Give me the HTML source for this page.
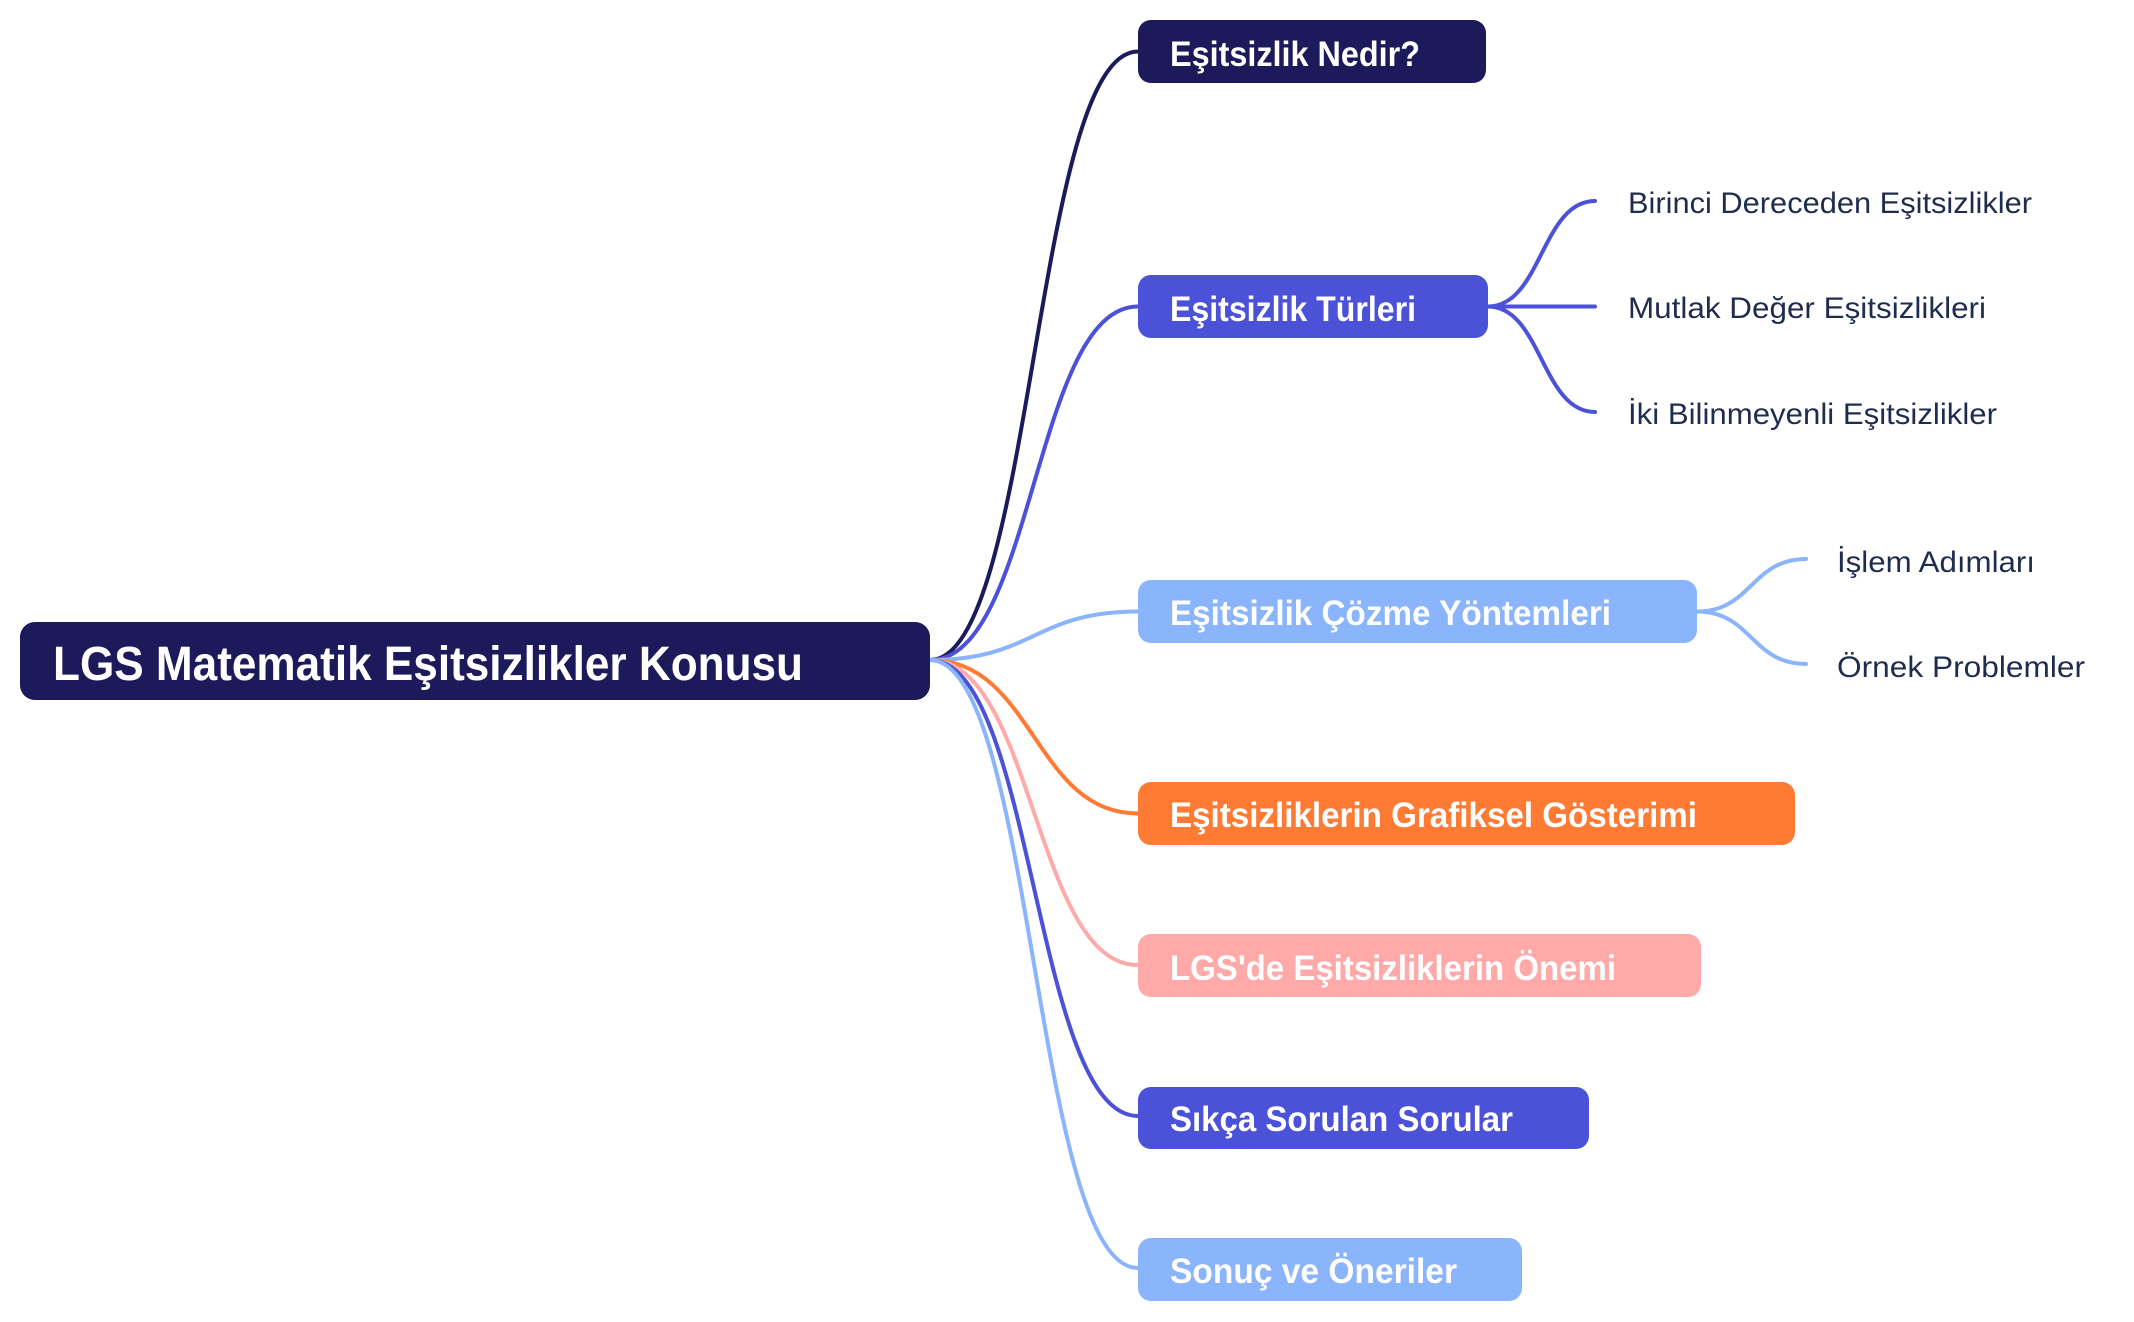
<!DOCTYPE html>
<html>
<head>
<meta charset="utf-8">
<style>
html,body{margin:0;padding:0;background:#ffffff;}
svg{display:block;}
text{font-family:"Liberation Sans","DejaVu Sans",sans-serif;}
.n{fill:#ffffff;font-weight:700;font-size:35px;}
.c{fill:#1f2c4e;font-weight:400;font-size:30px;}
</style>
</head>
<body>
<svg width="2134" height="1322" viewBox="0 0 2134 1322" xmlns="http://www.w3.org/2000/svg">
  <g fill="none" stroke-width="4" stroke-linecap="round">
    <!-- top-level connectors -->
    <path d="M930 660 C1034 660,1034 51.5,1138 51.5" stroke="#1c1a5a"/>
    <path d="M930 660 C1034 660,1034 306.5,1138 306.5" stroke="#4b52d8"/>
    <path d="M930 660 C1034 660,1034 611.5,1138 611.5" stroke="#8ab4fc"/>
    <path d="M930 660 C1034 660,1034 813.5,1138 813.5" stroke="#ff7b33"/>
    <path d="M930 660 C1034 660,1034 965,1138 965" stroke="#ffaaa9"/>
    <path d="M930 660 C1034 660,1034 1116,1138 1116" stroke="#4b52d8"/>
    <path d="M930 660 C1034 660,1034 1268,1138 1268" stroke="#8ab4fc"/>
    <!-- Türleri children -->
    <path d="M1488 306.5 C1541.5 306.5,1541.5 201,1595 201" stroke="#4b52d8"/>
    <path d="M1488 306.5 L1595 306.5" stroke="#4b52d8"/>
    <path d="M1488 306.5 C1541.5 306.5,1541.5 412,1595 412" stroke="#4b52d8"/>
    <!-- Çözme children -->
    <path d="M1697 611.5 C1751.5 611.5,1751.5 559,1806 559" stroke="#8ab4fc"/>
    <path d="M1697 611.5 C1751.5 611.5,1751.5 664,1806 664" stroke="#8ab4fc"/>
  </g>

  <!-- root -->
  <rect x="20" y="622" width="910" height="78" rx="15" fill="#1c1a5a"/>
  <text x="53" y="680" fill="#ffffff" font-weight="700" font-size="48" textLength="750" lengthAdjust="spacingAndGlyphs">LGS Matematik Eşitsizlikler Konusu</text>

  <!-- level 1 nodes -->
  <rect x="1138" y="20" width="348" height="63" rx="13" fill="#1c1a5a"/>
  <text class="n" x="1170" y="66" textLength="250" lengthAdjust="spacingAndGlyphs">Eşitsizlik Nedir?</text>

  <rect x="1138" y="275" width="350" height="63" rx="13" fill="#4b52d8"/>
  <text class="n" x="1170" y="321" textLength="246" lengthAdjust="spacingAndGlyphs">Eşitsizlik Türleri</text>

  <rect x="1138" y="580" width="559" height="63" rx="13" fill="#8ab4fc"/>
  <text class="n" x="1170" y="625" textLength="441" lengthAdjust="spacingAndGlyphs">Eşitsizlik Çözme Yöntemleri</text>

  <rect x="1138" y="782" width="657" height="63" rx="13" fill="#ff7b33"/>
  <text class="n" x="1170" y="827" textLength="527" lengthAdjust="spacingAndGlyphs">Eşitsizliklerin Grafiksel Gösterimi</text>

  <rect x="1138" y="934" width="563" height="63" rx="13" fill="#ffaaa9"/>
  <text class="n" x="1170" y="980" textLength="446" lengthAdjust="spacingAndGlyphs">LGS'de Eşitsizliklerin Önemi</text>

  <rect x="1138" y="1087" width="451" height="62" rx="13" fill="#4b52d8"/>
  <text class="n" x="1170" y="1131" textLength="343" lengthAdjust="spacingAndGlyphs">Sıkça Sorulan Sorular</text>

  <rect x="1138" y="1238" width="384" height="63" rx="13" fill="#8ab4fc"/>
  <text class="n" x="1170" y="1283" textLength="287" lengthAdjust="spacingAndGlyphs">Sonuç ve Öneriler</text>

  <!-- level 2 labels -->
  <text class="c" x="1628" y="213" textLength="404" lengthAdjust="spacingAndGlyphs">Birinci Dereceden Eşitsizlikler</text>
  <text class="c" x="1628" y="318" textLength="358" lengthAdjust="spacingAndGlyphs">Mutlak Değer Eşitsizlikleri</text>
  <text class="c" x="1628" y="424" textLength="369" lengthAdjust="spacingAndGlyphs">İki Bilinmeyenli Eşitsizlikler</text>
  <text class="c" x="1837" y="572" textLength="198" lengthAdjust="spacingAndGlyphs">İşlem Adımları</text>
  <text class="c" x="1837" y="677" textLength="248" lengthAdjust="spacingAndGlyphs">Örnek Problemler</text>
</svg>
</body>
</html>
